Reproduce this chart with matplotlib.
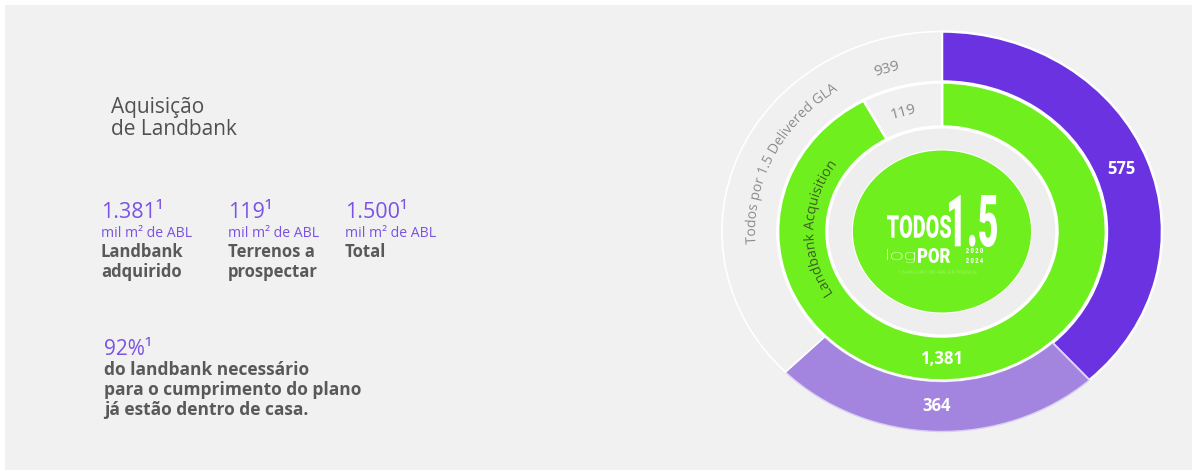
import numpy as np
import matplotlib.pyplot as plt
from matplotlib.patches import PathPatch
from matplotlib.textpath import TextPath
from matplotlib.font_manager import FontProperties, findfont, get_font
from matplotlib.transforms import Affine2D

plt.rcParams['font.family'] = ['Open Sans', 'DejaVu Sans']

W, H = 1197, 474

# dados do gráfico
total = 1500
outer_values = [575, 364]
outer_labels = ['575', '364', '939']
middle_values = [1381, 119]
middle_labels = ['1,381', '119']
outer_title = 'Todos por 1.5 Delivered GLA'
middle_title = 'Landbank Acquisition'

kpi_values = ['1.381¹', '119¹', '1.500¹']
kpi_unit = 'mil m² de ABL'
kpi_names = [['Landbank', 'adquirido'], ['Terrenos a', 'prospectar'], ['Total']]
share_value = '92%¹'
share_text = ['do landbank necessário', 'para o cumprimento do plano', 'já estão dentro de casa.']

PURPLE = '#6b32e2'
LAVENDER = '#a384de'
GREEN = '#6ff01e'
GRAY = '#f1f1f1'
TXT_PURPLE = '#7b52e3'
TXT_GRAY = '#595959'

fig = plt.figure(figsize=(W / 100, H / 100), dpi=100, facecolor='white')

bg = fig.add_axes([5 / W, 4 / H, (W - 10) / W, (H - 9) / H])
bg.set_facecolor(GRAY)
bg.set_xticks([])
bg.set_yticks([])
for s in bg.spines.values():
    s.set_visible(False)

# donut (ligeiramente esticado na horizontal como no original)
CX, CY = 942, 231.5          # centro em pixels (y a partir do topo)
RX, RY = 220, 200
ax = fig.add_axes([(CX - 1.25 * RX) / W, (H - CY - 1.25 * RY) / H, 2.5 * RX / W, 2.5 * RY / H])
ax.patch.set_visible(False)
wp = dict(edgecolor='white', linewidth=1.8)
outer, _ = ax.pie(outer_values + [total - sum(outer_values)], radius=1.0, startangle=90,
                  counterclock=False, colors=[PURPLE, LAVENDER, '#f0f0f0'],
                  wedgeprops=dict(width=0.25, **wp))
middle, _ = ax.pie(middle_values, radius=0.745, startangle=90, counterclock=False,
                   colors=[GREEN, '#f0f0f0'], wedgeprops=dict(width=0.22, **wp))
outer[1].set_edgecolor('#d9cdf3')
outer[1].set_linewidth(1)
outer[2].set_linewidth(1.2)
ax.pie([1], radius=0.52, colors=['#eeeeee'], wedgeprops=dict(width=0.115, edgecolor='white', linewidth=1.5))
ax.pie([1], radius=0.405, colors=[GREEN], wedgeprops=dict(linewidth=0))
ax.set_aspect('auto')
ax.set_xlim(-1.25, 1.25)
ax.set_ylim(-1.25, 1.25)
ax.axis('off')


def pol(r, phi):
    p = np.radians(phi)
    return r * np.cos(p), r * np.sin(p)


def tan_rot(phi):
    p = np.radians(phi)
    return np.degrees(np.arctan2(-RY * np.cos(p), RX * np.sin(p)))


def mid(w):
    return (w.theta1 + w.theta2) / 2


lab = dict(ha='center', va='center', color='white', fontsize=12, fontweight='bold')
ax.text(*pol(0.875, mid(outer[0])), outer_labels[0], **lab)
ax.text(*pol(0.875, mid(outer[1])), outer_labels[1], **lab)
ax.text(*pol(0.635, 270), middle_labels[0], **lab)
ax.text(*pol(0.85, 107), outer_labels[2], ha='center', va='center', color='#8a8a8a',
        fontsize=11, rotation=tan_rot(107), rotation_mode='anchor')
ax.text(*pol(0.62, 106.5), middle_labels[1], ha='center', va='center', color='#8a8a8a',
        fontsize=11, rotation=tan_rot(106.5), rotation_mode='anchor')

# camada de cima, coordenadas em pixels
top = fig.add_axes([0, 0, 1, 1])
top.set_xlim(0, W)
top.set_ylim(H, 0)
top.axis('off')


def arc_text(s, r, phi_mid, prop, color):
    px = prop.get_size_in_points() * 100 / 72
    font = get_font(findfont(prop))
    font.set_size(prop.get_size_in_points(), 100)
    adv = np.array([font.load_char(ord(ch)).linearHoriAdvance / 65536 for ch in s])
    centers = np.cumsum(adv) - adv / 2 - adv.sum() / 2
    for ch, c, a in zip(s, centers, adv):
        if ch == ' ':
            continue
        phi = phi_mid
        for _ in range(3):
            p = np.radians((phi + phi_mid) / 2)
            speed = np.hypot(RX * r * np.sin(p), RY * r * np.cos(p))
            phi = phi_mid - np.degrees(c / speed)
        x, y = pol(r, phi)
        glyph = TextPath((0, 0), ch, size=px, prop=prop)
        tr = (Affine2D().translate(-a / 2, 0).rotate_deg(tan_rot(phi))
              .scale(1, -1).translate(CX + RX * x, CY - RY * y))
        top.add_patch(PathPatch(tr.transform_path(glyph), facecolor=color, edgecolor='none'))


arc_text(outer_title, 0.85, 153.5, FontProperties(family=['Open Sans'], size=10), '#8c8c8c')
arc_text(middle_title, 0.585, 178.5, FontProperties(family=['Open Sans'], size=10), '#3e5c24')


def fit_text(s, x0, y0, x1, y1, prop, color='white'):
    path = TextPath((0, 0), s, size=40, prop=prop)
    ext = path.get_extents()
    tr = (Affine2D().translate(-ext.x0, -ext.y0)
          .scale((x1 - x0) / ext.width, -(y1 - y0) / ext.height).translate(x0, y1))
    top.add_patch(PathPatch(tr.transform_path(path), facecolor=color, edgecolor='none'))


logo_b = FontProperties(family='Roboto', weight='black')
logo_l = FontProperties(family='Roboto', weight='light')
fit_text('TODOS', 887, 215, 951, 238, logo_b)
fit_text('1.5', 949, 195, 997, 247, logo_b)
fit_text('log', 887, 249, 915, 263, logo_l)
fit_text('POR', 918, 248, 950, 263, logo_b)
fit_text('2 0 2 0', 966, 248, 983, 253, logo_b)
fit_text('2 0 2 4', 966, 258, 983, 263, logo_b)
fit_text('1,5 MILHÃO DE ABL ENTREGUE', 898, 270, 977, 274, logo_l)

# textos à esquerda
top.text(111, 113, 'Aquisição', fontsize=15, color='#505050', va='baseline')
top.text(111, 135, 'de Landbank', fontsize=15, color='#505050', va='baseline')

for x, v, names in zip([101, 228, 345], kpi_values, kpi_names):
    top.text(x, 218, v, fontsize=15.5, color=TXT_PURPLE, va='baseline')
    top.text(x, 237, kpi_unit, fontsize=10.2, color=TXT_PURPLE, va='baseline')
    for j, n in enumerate(names):
        top.text(x, 257 + 20 * j, n, fontsize=12, fontweight='bold', color=TXT_GRAY, va='baseline')

top.text(104, 355, share_value, fontsize=15, color=TXT_PURPLE, va='baseline')
for j, line in enumerate(share_text):
    top.text(104, 375 + 20 * j, line, fontsize=12.5, fontweight='bold', color=TXT_GRAY, va='baseline')

fig.savefig('out.png', dpi=100, facecolor=fig.get_facecolor())
